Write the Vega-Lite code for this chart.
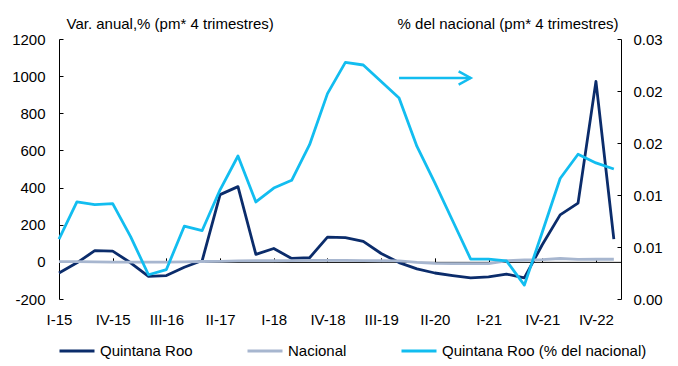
{
  "$schema": "https://vega.github.io/schema/vega-lite/v6.json",
  "width": 562,
  "height": 260,
  "autosize": {"type": "none"},
  "padding": {"left": 59, "top": 39, "right": 57, "bottom": 67},
  "config": {
    "font": "Liberation Sans",
    "view": {"stroke": null},
    "axis": {"grid": false, "labelFontSize": 15, "labelColor": "#000", "domainColor": "#000", "tickColor": "#000", "titleFontSize": 15, "titleFontWeight": "normal", "titleColor": "#000", "titleFont": "Liberation Sans", "labelFont": "Liberation Sans", "labelOverlap": false},
    "legend": {"labelFont": "Liberation Sans"}
  },
  "datasets": {
    "main": [
      {"q": "I-15", "qroo": -60, "nac": 1, "pct": 0.0069},
      {"q": "II-15", "qroo": -5, "nac": 1, "pct": 0.0112},
      {"q": "III-15", "qroo": 60, "nac": 0, "pct": 0.0109},
      {"q": "IV-15", "qroo": 58, "nac": -1, "pct": 0.0110},
      {"q": "I-16", "qroo": -5, "nac": -1, "pct": 0.0072},
      {"q": "II-16", "qroo": -78, "nac": -1, "pct": 0.0028},
      {"q": "III-16", "qroo": -74, "nac": -1, "pct": 0.0034},
      {"q": "IV-16", "qroo": -29, "nac": 0, "pct": 0.0084},
      {"q": "I-17", "qroo": 7, "nac": 2, "pct": 0.0079},
      {"q": "II-17", "qroo": 362, "nac": 3, "pct": 0.0126},
      {"q": "III-17", "qroo": 405, "nac": 5, "pct": 0.0165},
      {"q": "IV-17", "qroo": 40, "nac": 6, "pct": 0.0112},
      {"q": "I-18", "qroo": 72, "nac": 6, "pct": 0.0128},
      {"q": "II-18", "qroo": 18, "nac": 7, "pct": 0.0137},
      {"q": "III-18", "qroo": 22, "nac": 8, "pct": 0.0178},
      {"q": "IV-18", "qroo": 133, "nac": 8, "pct": 0.0237},
      {"q": "I-19", "qroo": 131, "nac": 8, "pct": 0.0273},
      {"q": "II-19", "qroo": 110, "nac": 7, "pct": 0.0270},
      {"q": "III-19", "qroo": 45, "nac": 6, "pct": 0.0251},
      {"q": "IV-19", "qroo": -4, "nac": 5, "pct": 0.0232},
      {"q": "I-20", "qroo": -38, "nac": -3, "pct": 0.0176},
      {"q": "II-20", "qroo": -60, "nac": -8, "pct": 0.0134},
      {"q": "III-20", "qroo": -74, "nac": -9, "pct": 0.0090},
      {"q": "IV-20", "qroo": -86, "nac": -9, "pct": 0.0046},
      {"q": "I-21", "qroo": -81, "nac": -9, "pct": 0.0046},
      {"q": "II-21", "qroo": -66, "nac": 6, "pct": 0.0044},
      {"q": "III-21", "qroo": -86, "nac": 10, "pct": 0.0016},
      {"q": "IV-21", "qroo": 92, "nac": 12, "pct": 0.0077},
      {"q": "I-22", "qroo": 253, "nac": 18, "pct": 0.0139},
      {"q": "II-22", "qroo": 316, "nac": 13, "pct": 0.0167},
      {"q": "IV-22", "qroo": 972, "nac": 14, "pct": 0.0157},
      {"q": "I-23", "qroo": 122, "nac": 14, "pct": 0.0150}
    ],
    "arrow": [
      {"q": "IV-19", "q2": "IV-20", "y": 990}
    ]
  },
  "layer": [
    {
      "layer": [
        {
          "data": {"name": "main"},
          "mark": {"type": "line", "strokeWidth": 2.8, "strokeJoin": "round"},
          "encoding": {
            "x": {
              "field": "q", "type": "ordinal",
              "scale": {"type": "point", "padding": 0.2, "align": 0, "domain": ["I-15","II-15","III-15","IV-15","I-16","II-16","III-16","IV-16","I-17","II-17","III-17","IV-17","I-18","II-18","III-18","IV-18","I-19","II-19","III-19","IV-19","I-20","II-20","III-20","IV-20","I-21","II-21","III-21","IV-21","I-22","II-22","IV-22","I-23"]},
              "axis": {"orient": "bottom", "offset": -37.14, "labels": false, "title": null, "tickSize": -4, "domainColor": "#000", "domainWidth": 1, "values": ["I-15","IV-15","III-16","II-17","I-18","IV-18","III-19","II-20","I-21","IV-21","IV-22"]}
            },
            "y": {
              "field": "qroo", "type": "quantitative",
              "scale": {"domain": [-200, 1200], "nice": false, "zero": false},
              "axis": {"orient": "left", "values": [-200, 0, 200, 400, 600, 800, 1000, 1200], "tickCount": 20, "labelExpr": "toString(datum.value)", "tickSize": -4, "labelPadding": 18, "title": "Var. anual,% (pm* 4 trimestres)", "titleAngle": 0, "titleX": 7, "titleY": -16, "titleAlign": "left", "titleBaseline": "middle"}
            },
            "color": {
              "datum": "Quintana Roo",
              "scale": {"domain": ["Quintana Roo", "Nacional", "Quintana Roo (% del nacional)"], "range": ["#0B2C6B", "#A7B6CF", "#12BDF0"]},
              "legend": {"orient": "none", "legendX": -1, "legendY": 293, "direction": "horizontal", "title": null, "symbolType": "stroke", "symbolSize": 1225, "symbolStrokeWidth": 3, "labelFontSize": 15, "labelColor": "#000", "labelLimit": 400, "columnPadding": 48, "labelOffset": 4}
            }
          }
        },
        {
          "data": {"name": "main"},
          "mark": {"type": "line", "strokeWidth": 2.8, "strokeJoin": "round"},
          "encoding": {
            "x": {"field": "q", "type": "ordinal"},
            "y": {"field": "nac", "type": "quantitative"},
            "color": {"datum": "Nacional"}
          }
        },
        {
          "data": {"name": "arrow"},
          "mark": {"type": "rule", "color": "#12BDF0", "strokeWidth": 2.5},
          "encoding": {
            "x": {"field": "q", "type": "ordinal"},
            "x2": {"field": "q2"},
            "y": {"field": "y", "type": "quantitative"}
          }
        },
        {
          "data": {"name": "arrow"},
          "mark": {"type": "point", "shape": "M-1,-0.55L0,0L-1,0.55", "filled": false, "stroke": "#12BDF0", "strokeWidth": 2.5, "size": 576, "opacity": 1},
          "encoding": {
            "x": {"field": "q2", "type": "ordinal"},
            "y": {"field": "y", "type": "quantitative"}
          }
        }
      ]
    },
    {
      "data": {"name": "main"},
      "mark": {"type": "line", "strokeWidth": 2.8, "strokeJoin": "round"},
      "encoding": {
        "x": {
          "field": "q", "type": "ordinal",
          "axis": {"orient": "bottom", "domain": false, "ticks": false, "labelPadding": 13, "labelAngle": 0, "title": null, "values": ["I-15","IV-15","III-16","II-17","I-18","IV-18","III-19","II-20","I-21","IV-21","IV-22"]}
        },
        "y": {
          "field": "pct", "type": "quantitative",
          "scale": {"domain": [0, 0.03], "nice": false},
          "axis": {"orient": "right", "values": [0, 0.006, 0.012, 0.018, 0.024, 0.03], "tickCount": 20, "format": ".2f", "tickSize": -4, "labelPadding": 16, "title": "% del nacional (pm* 4 trimestres)", "titleAngle": 0, "titleX": -3, "titleY": -16, "titleAlign": "right", "titleBaseline": "middle"}
        },
        "color": {"datum": "Quintana Roo (% del nacional)"}
      }
    }
  ],
  "resolve": {"scale": {"y": "independent"}, "axis": {"x": "independent", "y": "independent"}}
}
